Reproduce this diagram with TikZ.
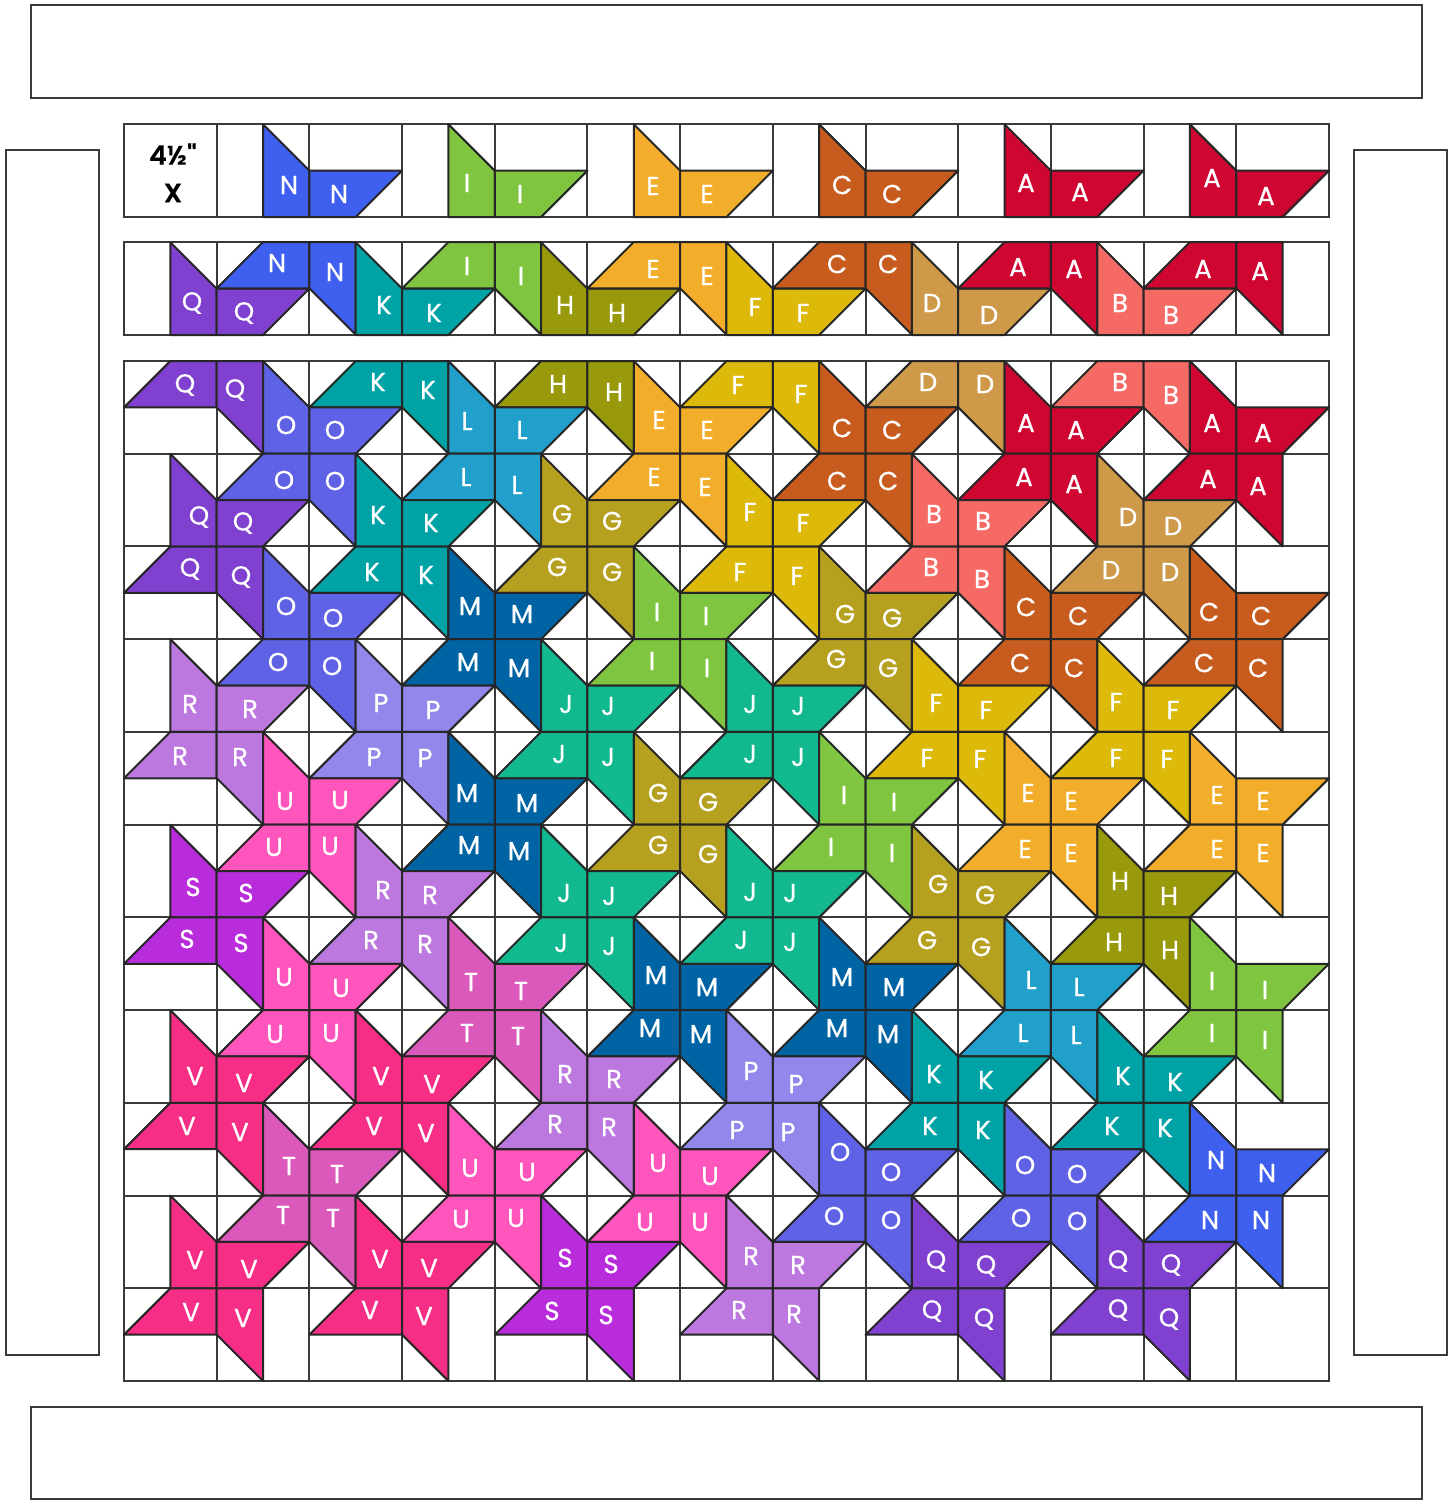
\documentclass[tikz,border=0pt]{standalone}
\usepackage{fontspec}
\setmainfont{Poppins}
\newfontfamily\letterfont[FakeBold=0.7]{Poppins}
\newfontfamily\tagfont[FakeBold=0.3]{Poppins SemiBold}
\definecolor{cA}{HTML}{CF0632}\definecolor{cB}{HTML}{F56A64}\definecolor{cC}{HTML}{C85C1F}
\definecolor{cD}{HTML}{CF994A}\definecolor{cE}{HTML}{F2AE2A}\definecolor{cF}{HTML}{DDB90A}
\definecolor{cG}{HTML}{B5A01F}\definecolor{cH}{HTML}{989A0C}\definecolor{cI}{HTML}{7FC540}
\definecolor{cJ}{HTML}{12B990}\definecolor{cK}{HTML}{00A3A5}\definecolor{cL}{HTML}{22A0CC}
\definecolor{cM}{HTML}{0063A4}\definecolor{cN}{HTML}{3F5FEF}\definecolor{cO}{HTML}{5F62E5}
\definecolor{cP}{HTML}{9287EB}\definecolor{cQ}{HTML}{8040D0}\definecolor{cR}{HTML}{BD78E0}
\definecolor{cS}{HTML}{B82CDC}\definecolor{cT}{HTML}{DC59BC}\definecolor{cU}{HTML}{FF55BC}
\definecolor{cV}{HTML}{F72E86}\definecolor{gridline}{HTML}{3A3A3A}
\tikzset{
  gridrule/.style={draw=gridline,line width=1.5pt},
  blade/.style={draw=black!85,line width=1.5pt,line join=round},
  letter/.style={text=white,font=\letterfont\fontsize{19.5}{20}\selectfont,inner sep=0pt,anchor=center},
  tagmark/.style={text=black,font=\tagfont\fontsize{20}{22}\selectfont,inner sep=0pt,anchor=center}
}
\newcounter{lbl}
\newcommand\lbl[3]{\stepcounter{lbl}\node[letter] (t\thelbl) at (#1,#2) {#3};}
% upper pair of blades of a pinwheel centred on column #1, y #2, letter #3
\def\up#1#2#3(#4,#5)(#6,#7){%
  \begin{scope}[shift={({124+92.69*#1},#2)}]
    \filldraw[blade,fill=c#3] (0,0)--(-46.35,0)--(-46.35,-92.7)--(0,-46.35)--cycle;
    \filldraw[blade,fill=c#3] (0,0)--(0,-46.35)--(92.7,-46.35)--(46.35,0)--cycle;
  \end{scope}
  \lbl{#4}{#5}{#3}\lbl{#6}{#7}{#3}}
% lower pair of blades
\def\dn#1#2#3(#4,#5)(#6,#7){%
  \begin{scope}[shift={({124+92.69*#1},#2)}]
    \filldraw[blade,fill=c#3] (0,0)--(-46.35,0)--(-92.7,46.35)--(0,46.35)--cycle;
    \filldraw[blade,fill=c#3] (0,0)--(0,46.35)--(46.35,92.7)--(46.35,0)--cycle;
  \end{scope}
  \lbl{#4}{#5}{#3}\lbl{#6}{#7}{#3}}
\begin{document}
\begin{tikzpicture}[x=0.75pt,y=-0.75pt]
\useasboundingbox (0,0) rectangle (1453,1500);
% borders
\draw[gridrule] (31,5) rectangle (1422,98);
\draw[gridrule] (31,1407) rectangle (1422,1499);
\draw[gridrule] (6,150) rectangle (99,1355);
\draw[gridrule] (1354,150) rectangle (1447,1355);
% grids
\draw[gridrule] (124,124) rectangle (1329,217);
\draw[gridrule] (124,242) rectangle (1329,335);
\draw[gridrule] (124,361) rectangle (1329,1381);
\foreach \i in {1,...,12}{
  \draw[gridrule] ({124+92.69*\i},124)--({124+92.69*\i},217);
  \draw[gridrule] ({124+92.69*\i},242)--({124+92.69*\i},335);
  \draw[gridrule] ({124+92.69*\i},361)--({124+92.69*\i},1381);
}
\foreach \j in {1,...,10}{
  \draw[gridrule] (124,{361+92.73*\j})--(1329,{361+92.73*\j});
}
\node[tagmark] (size) at (173,154) {4½"};
\node[tagmark] (xmark) at (173,193) {X};
% strip 1
\up{2}{217}{N}(289,185)(339,194)
\up{4}{217}{I}(467,183)(520,194)
\up{6}{217}{E}(653,186)(707,194)
\up{8}{217}{C}(842,185)(892,194)
\up{10}{217}{A}(1026,183)(1080,192)
\up{12}{217}{A}(1212,178)(1266,196)
% strip 2
\up{1}{335}{Q}(192,303)(244,313)
\dn{2}{242}{N}(277,263)(335,272)
\up{3}{335}{K}(384,305)(434,313)
\dn{4}{242}{I}(467,266)(521,276)
\up{5}{335}{H}(565,305)(617,313)
\dn{6}{242}{E}(653,269)(707,276)
\up{7}{335}{F}(755,307)(803,313)
\dn{8}{242}{C}(837,264)(888,264)
\up{9}{335}{D}(932,303)(989,315)
\dn{10}{242}{A}(1018,267)(1074,269)
\up{11}{335}{B}(1120,303)(1171,315)
\dn{12}{242}{A}(1203,269)(1260,271)
% row 0
\dn{1}{361}{Q}(185,385)(235,390)
\dn{3}{361}{K}(378,382)(428,390)
\dn{5}{361}{H}(558,384)(614,392)
\dn{7}{361}{F}(738,385)(801,394)
\dn{9}{361}{D}(928,382)(985,384)
\dn{11}{361}{B}(1120,382)(1171,395)
% row 1
\up{2}{453.7}{O}(286,425)(335,430)\dn{2}{453.7}{O}(284,480)(335,481)
\up{4}{453.7}{L}(467,421)(522,430)\dn{4}{453.7}{L}(466,477)(517,485)
\up{6}{453.7}{E}(659,420)(707,430)\dn{6}{453.7}{E}(654,477)(705,487)
\up{8}{453.7}{C}(842,428)(892,430)\dn{8}{453.7}{C}(837,481)(888,481)
\up{10}{453.7}{A}(1026,423)(1076,430)\dn{10}{453.7}{A}(1024,477)(1074,484)
\up{12}{453.7}{A}(1212,423)(1263,433)\dn{12}{453.7}{A}(1208,479)(1258,486)
% row 2
\up{1}{546.5}{Q}(199,517)(243,523)\dn{1}{546.5}{Q}(190,569)(241,577)
\up{3}{546.5}{K}(378,515)(431,523)\dn{3}{546.5}{K}(372,572)(426,575)
\up{5}{546.5}{G}(562,514)(612,521)\dn{5}{546.5}{G}(557,567)(612,572)
\up{7}{546.5}{F}(750,512)(803,523)\dn{7}{546.5}{F}(740,572)(797,576)
\up{9}{546.5}{B}(934,514)(983,521)\dn{9}{546.5}{B}(931,567)(982,579)
\up{11}{546.5}{D}(1128,517)(1173,526)\dn{11}{546.5}{D}(1111,570)(1170,572)
% row 3
\up{2}{639.2}{O}(286,606)(333,618)\dn{2}{639.2}{O}(278,662)(332,666)
\up{4}{639.2}{M}(470,606)(522,614)\dn{4}{639.2}{M}(468,662)(519,668)
\up{6}{639.2}{I}(657,612)(706,616)\dn{6}{639.2}{I}(652,661)(707,668)
\up{8}{639.2}{G}(845,614)(892,618)\dn{8}{639.2}{G}(836,659)(888,668)
\up{10}{639.2}{C}(1026,607)(1078,616)\dn{10}{639.2}{C}(1020,663)(1074,668)
\up{12}{639.2}{C}(1209,612)(1261,616)\dn{12}{639.2}{C}(1204,663)(1258,668)
% row 4
\up{1}{731.9}{R}(190,704)(250,709)\dn{1}{731.9}{R}(180,756)(240,757)
\up{3}{731.9}{P}(381,703)(433,710)\dn{3}{731.9}{P}(374,757)(425,758)
\up{5}{731.9}{J}(566,704)(608,706)\dn{5}{731.9}{J}(559,754)(608,757)
\up{7}{731.9}{J}(750,704)(798,706)\dn{7}{731.9}{J}(750,754)(798,757)
\up{9}{731.9}{F}(936,703)(986,710)\dn{9}{731.9}{F}(927,758)(980,759)
\up{11}{731.9}{F}(1116,702)(1173,710)\dn{11}{731.9}{F}(1116,758)(1167,759)
% row 5
\up{2}{824.7}{U}(285,801)(340,800)\dn{2}{824.7}{U}(274,847)(330,846)
\up{4}{824.7}{M}(467,793)(527,803)\dn{4}{824.7}{M}(469,845)(519,851)
\up{6}{824.7}{G}(658,793)(708,802)\dn{6}{824.7}{G}(658,845)(708,854)
\up{8}{824.7}{I}(844,795)(894,802)\dn{8}{824.7}{I}(831,847)(892,853)
\up{10}{824.7}{E}(1028,793)(1071,801)\dn{10}{824.7}{E}(1025,849)(1071,853)
\up{12}{824.7}{E}(1217,795)(1263,801)\dn{12}{824.7}{E}(1217,849)(1263,853)
% row 6
\up{1}{917.4}{S}(193,887)(246,893)\dn{1}{917.4}{S}(187,939)(241,943)
\up{3}{917.4}{R}(383,890)(430,895)\dn{3}{917.4}{R}(371,940)(425,944)
\up{5}{917.4}{J}(564,893)(609,896)\dn{5}{917.4}{J}(561,943)(609,946)
\up{7}{917.4}{J}(750,892)(790,893)\dn{7}{917.4}{J}(741,940)(790,942)
\up{9}{917.4}{G}(938,884)(985,895)\dn{9}{917.4}{G}(927,940)(981,947)
\up{11}{917.4}{H}(1120,881)(1169,896)\dn{11}{917.4}{H}(1114,942)(1170,950)
% row 7
\up{2}{1010.1}{U}(284,977)(341,988)\dn{2}{1010.1}{U}(275,1034)(331,1033)
\up{4}{1010.1}{T}(471,982)(521,991)\dn{4}{1010.1}{T}(467,1033)(518,1036)
\up{6}{1010.1}{M}(656,975)(707,987)\dn{6}{1010.1}{M}(650,1028)(701,1034)
\up{8}{1010.1}{M}(842,977)(894,987)\dn{8}{1010.1}{M}(837,1028)(888,1034)
\up{10}{1010.1}{L}(1031,980)(1079,987)\dn{10}{1010.1}{L}(1023,1033)(1076,1035)
\up{12}{1010.1}{I}(1212,981)(1265,990)\dn{12}{1010.1}{I}(1212,1033)(1265,1040)
% row 8
\up{1}{1102.8}{V}(195,1076)(244,1083)\dn{1}{1102.8}{V}(187,1126)(240,1132)
\up{3}{1102.8}{V}(381,1076)(432,1084)\dn{3}{1102.8}{V}(374,1126)(426,1133)
\up{5}{1102.8}{R}(565,1074)(614,1079)\dn{5}{1102.8}{R}(555,1124)(609,1127)
\up{7}{1102.8}{P}(751,1071)(796,1084)\dn{7}{1102.8}{P}(737,1130)(788,1132)
\up{9}{1102.8}{K}(934,1074)(986,1080)\dn{9}{1102.8}{K}(930,1126)(983,1130)
\up{11}{1102.8}{K}(1123,1076)(1175,1082)\dn{11}{1102.8}{K}(1112,1126)(1165,1128)
% row 9
\up{2}{1195.6}{T}(289,1166)(337,1174)\dn{2}{1195.6}{T}(283,1215)(333,1218)
\up{4}{1195.6}{U}(470,1168)(527,1172)\dn{4}{1195.6}{U}(461,1219)(516,1218)
\up{6}{1195.6}{U}(658,1163)(710,1176)\dn{6}{1195.6}{U}(645,1222)(700,1222)
\up{8}{1195.6}{O}(840,1152)(891,1172)\dn{8}{1195.6}{O}(834,1216)(891,1220)
\up{10}{1195.6}{O}(1025,1165)(1077,1174)\dn{10}{1195.6}{O}(1021,1218)(1077,1221)
\up{12}{1195.6}{N}(1216,1160)(1267,1173)\dn{12}{1195.6}{N}(1210,1220)(1261,1220)
% row 10
\up{1}{1288.3}{V}(195,1260)(249,1269)\dn{1}{1288.3}{V}(191,1312)(243,1318)
\up{3}{1288.3}{V}(380,1259)(429,1268)\dn{3}{1288.3}{V}(370,1310)(424,1316)
\up{5}{1288.3}{S}(565,1258)(611,1264)\dn{5}{1288.3}{S}(552,1311)(606,1315)
\up{7}{1288.3}{R}(751,1256)(798,1265)\dn{7}{1288.3}{R}(739,1310)(794,1314)
\up{9}{1288.3}{Q}(936,1261)(986,1266)\dn{9}{1288.3}{Q}(932,1311)(984,1319)
\up{11}{1288.3}{Q}(1118,1261)(1171,1265)\dn{11}{1288.3}{Q}(1118,1310)(1169,1319)
\end{tikzpicture}
\end{document}
